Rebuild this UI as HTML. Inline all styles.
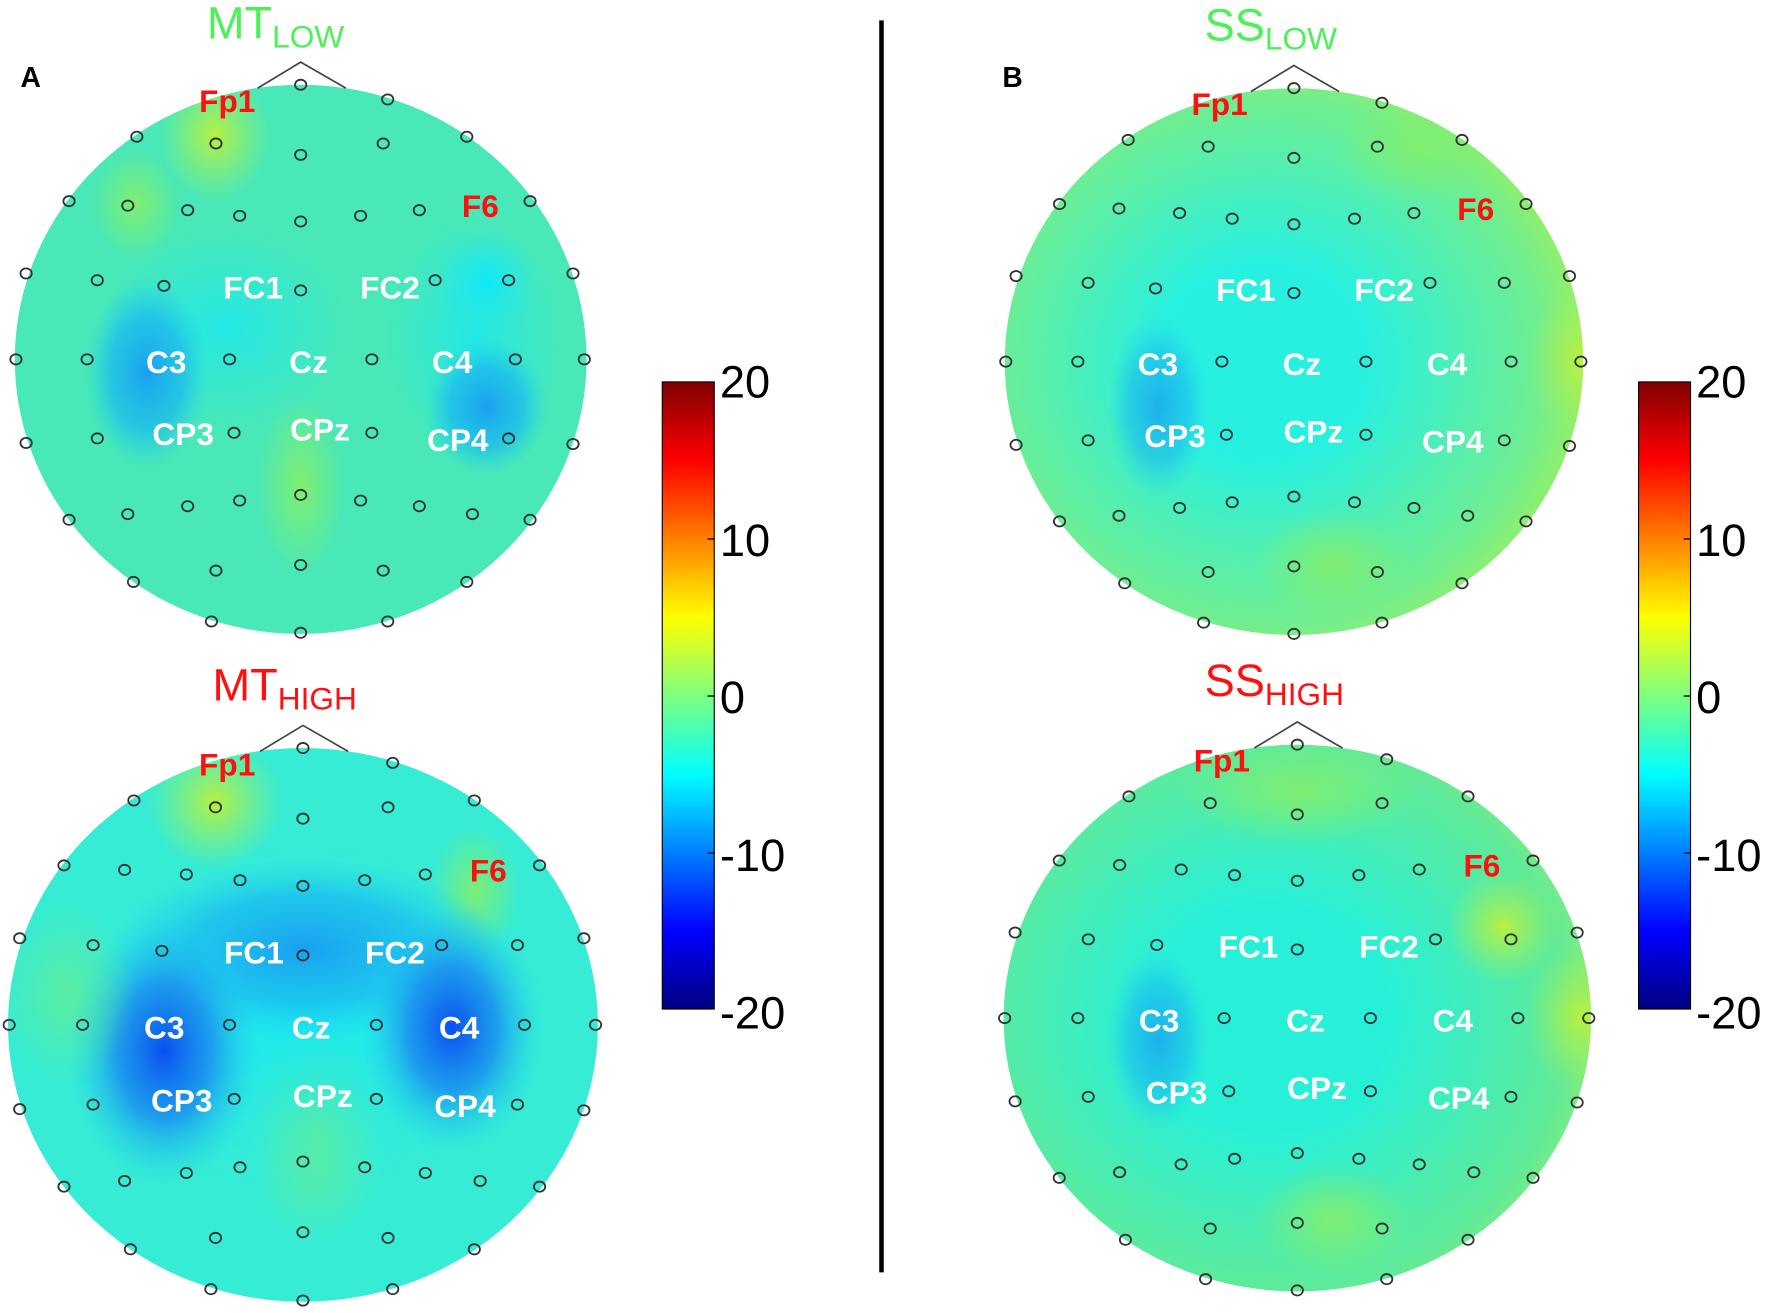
<!DOCTYPE html>
<html><head><meta charset="utf-8"><style>
html,body{margin:0;padding:0;background:#fff;width:1772px;height:1313px;overflow:hidden}
svg{display:block}
text{font-family:"Liberation Sans",sans-serif}
</style></head><body>
<svg id="s" width="1772" height="1313" viewBox="0 0 1568 1162" xmlns="http://www.w3.org/2000/svg">
<defs>
<linearGradient id="jet" x1="0" y1="1" x2="0" y2="0">
<stop offset="0" stop-color="#00007f"/><stop offset="0.125" stop-color="#0000ff"/>
<stop offset="0.375" stop-color="#00ffff"/><stop offset="0.5" stop-color="#7fff7f"/>
<stop offset="0.625" stop-color="#ffff00"/><stop offset="0.875" stop-color="#ff0000"/>
<stop offset="1" stop-color="#7f0000"/></linearGradient>
<radialGradient id="blue"><stop offset="0" stop-color="#0a50f0"/><stop offset="0.5" stop-color="#1a90f0" stop-opacity="0.85"/><stop offset="1" stop-color="#20d0f0" stop-opacity="0"/></radialGradient>
<radialGradient id="cyan"><stop offset="0" stop-color="#10e8f8"/><stop offset="1" stop-color="#20e8f0" stop-opacity="0"/></radialGradient>
<radialGradient id="mid"><stop offset="0" stop-color="#1aa0f0"/><stop offset="0.6" stop-color="#1ab8f0" stop-opacity="0.7"/><stop offset="1" stop-color="#20d0f0" stop-opacity="0"/></radialGradient>
<radialGradient id="yel"><stop offset="0" stop-color="#b8f040"/><stop offset="1" stop-color="#a0f060" stop-opacity="0"/></radialGradient>
<radialGradient id="grn"><stop offset="0" stop-color="#80ee70"/><stop offset="1" stop-color="#80ee70" stop-opacity="0"/></radialGradient>
<radialGradient id="ssl" cx="0.45" cy="0.5" r="0.6"><stop offset="0.3" stop-color="#28f0e0"/><stop offset="0.8" stop-color="#70ee90"/><stop offset="1" stop-color="#a8f050"/></radialGradient>
<radialGradient id="ssh" cx="0.45" cy="0.5" r="0.6"><stop offset="0.35" stop-color="#28f0d8"/><stop offset="0.85" stop-color="#60ea98"/><stop offset="1" stop-color="#90ee70"/></radialGradient>
<clipPath id="c1"><ellipse cx="266" cy="318" rx="253" ry="243"/></clipPath>
<clipPath id="c2"><ellipse cx="268" cy="907" rx="261" ry="245"/></clipPath>
<clipPath id="c3"><ellipse cx="1145" cy="320" rx="256" ry="242"/></clipPath>
<clipPath id="c4"><ellipse cx="1148" cy="901" rx="260" ry="242"/></clipPath>
</defs>

<g clip-path="url(#c1)">
<rect x="0" y="60" width="540" height="520" fill="#48e8b8"/>
<ellipse cx="190" cy="120" rx="50" ry="60" fill="url(#yel)"/>
<ellipse cx="120" cy="180" rx="40" ry="50" fill="url(#grn)"/>
<ellipse cx="266" cy="430" rx="40" ry="80" fill="url(#grn)"/>
<ellipse cx="200" cy="290" rx="110" ry="90" fill="url(#cyan)" opacity="0.7"/>
<ellipse cx="420" cy="300" rx="80" ry="110" fill="url(#cyan)" opacity="0.7"/>
<ellipse cx="130" cy="330" rx="55" ry="85" fill="url(#mid)"/>
<ellipse cx="430" cy="360" rx="55" ry="60" fill="url(#mid)"/>
<ellipse cx="430" cy="250" rx="45" ry="45" fill="url(#cyan)"/>
</g>
<g clip-path="url(#c2)">
<rect x="0" y="650" width="540" height="520" fill="#36ecd4"/>
<ellipse cx="190" cy="710" rx="60" ry="60" fill="url(#yel)"/>
<ellipse cx="420" cy="790" rx="40" ry="60" fill="url(#grn)"/>
<ellipse cx="280" cy="1000" rx="60" ry="100" fill="url(#grn)" opacity="0.7"/>
<ellipse cx="270" cy="900" rx="230" ry="160" fill="url(#cyan)" opacity="0.8"/>
<ellipse cx="270" cy="840" rx="170" ry="80" fill="url(#mid)"/>
<ellipse cx="145" cy="930" rx="85" ry="120" fill="url(#blue)"/>
<ellipse cx="400" cy="910" rx="80" ry="110" fill="url(#blue)"/>
<ellipse cx="60" cy="880" rx="60" ry="80" fill="url(#grn)" opacity="0.5"/>
</g>
<g clip-path="url(#c3)">
<ellipse cx="1145" cy="320" rx="256" ry="242" fill="url(#ssl)"/>
<ellipse cx="1025" cy="360" rx="45" ry="80" fill="url(#mid)" opacity="0.8"/>
<ellipse cx="1180" cy="500" rx="70" ry="50" fill="url(#grn)"/>
<ellipse cx="1400" cy="320" rx="50" ry="70" fill="url(#yel)"/>
<ellipse cx="1260" cy="130" rx="80" ry="50" fill="url(#grn)"/>
</g>
<g clip-path="url(#c4)">
<ellipse cx="1148" cy="901" rx="260" ry="242" fill="url(#ssh)"/>
<ellipse cx="1025" cy="920" rx="45" ry="80" fill="url(#mid)" opacity="0.8"/>
<ellipse cx="1180" cy="1080" rx="70" ry="50" fill="url(#grn)"/>
<ellipse cx="1400" cy="900" rx="50" ry="70" fill="url(#yel)"/>
<ellipse cx="1330" cy="820" rx="50" ry="50" fill="url(#yel)"/>
<ellipse cx="1150" cy="700" rx="110" ry="50" fill="url(#grn)"/>
</g>

<g id="el" fill="none" stroke="#333" stroke-width="1.6"></g>
<g font-weight="bold" font-size="28" fill="#fff" id="lab"></g>

<text x="183" y="34" font-size="40" fill="#4ef05a">MT<tspan font-size="28" dy="8">LOW</tspan></text>
<text x="188" y="620" font-size="40" fill="#ff1010">MT<tspan font-size="28" dy="8">HIGH</tspan></text>
<text x="1066" y="36" font-size="40" fill="#4ef05a">SS<tspan font-size="28" dy="8">LOW</tspan></text>
<text x="1066" y="616" font-size="40" fill="#ff1010">SS<tspan font-size="28" dy="8">HIGH</tspan></text>
<text x="18" y="77" font-size="25" font-weight="bold">A</text>
<text x="887" y="77" font-size="25" font-weight="bold">B</text>

<line x1="780" y1="18" x2="780" y2="1126" stroke="#000" stroke-width="4"/>

<rect x="586" y="338" width="46" height="555" fill="url(#jet)" stroke="#000" stroke-width="1"/>
<rect x="1450" y="338" width="46" height="555" fill="url(#jet)" stroke="#000" stroke-width="1"/>
<g font-size="40" fill="#000">
<text x="637" y="352">20</text><text x="637" y="492">10</text><text x="637" y="631">0</text><text x="637" y="771">-10</text><text x="637" y="910">-20</text>
<text x="1501" y="352">20</text><text x="1501" y="492">10</text><text x="1501" y="631">0</text><text x="1501" y="771">-10</text><text x="1501" y="910">-20</text>
</g>
<g stroke="#000" stroke-width="1.2">
<line x1="632" y1="477" x2="626" y2="477"/><line x1="632" y1="616" x2="626" y2="616"/><line x1="632" y1="755" x2="626" y2="755"/>
<line x1="1496" y1="477" x2="1490" y2="477"/><line x1="1496" y1="616" x2="1490" y2="616"/><line x1="1496" y1="755" x2="1490" y2="755"/>
</g>
</svg>
<script>
var ns="http://www.w3.org/2000/svg";
var heads=[[266,318,253,243],[268,907,261,245],[1145,320,256,242],[1148,901,260,242]];
var pts=[[266,75],[343,88],[121,121],[191,127],[266,137],[339,127],[413,121],
[61,178],[113,182],[166,186],[212,191],[266,196],[319,191],[371,186],[469,178],
[23,242],[86,248],[145,253],[266,257],[385,248],[450,248],[507,242],
[14,318],[77,318],[203,318],[329,318],[456,318],[517,318],
[23,392],[86,388],[207,383],[329,383],[450,388],[507,393],
[61,460],[113,455],[166,448],[212,443],[266,438],[319,443],[371,448],[418,455],[469,460],
[118,515],[191,505],[266,500],[339,505],[413,515],[187,550],[266,560],[343,550]];
var labs=[["FC1",224,264,"#fff"],["FC2",345,264,"#fff"],["C3",147,330,"#fff"],["Cz",273,330,"#fff"],["C4",400,330,"#fff"],
["CP3",162,394,"#fff"],["CPz",283,390,"#fff"],["CP4",405,399,"#fff"],["Fp1",201,99,"#ff1010"],["F6",425,192,"#ff1010"]];
var el=document.getElementById("el"),lab=document.getElementById("lab");
heads.forEach(function(h){
 var sx=h[2]/253,sy=h[3]/243;
 pts.forEach(function(p){var c=document.createElementNS(ns,"ellipse");
  c.setAttribute("cx",h[0]+(p[0]-266)*sx);c.setAttribute("cy",h[1]+(p[1]-318)*sy);
  c.setAttribute("rx",5);c.setAttribute("ry",4.5);el.appendChild(c);});
 labs.forEach(function(l){var t=document.createElementNS(ns,"text");
  t.setAttribute("x",h[0]+(l[1]-266)*sx);t.setAttribute("y",h[1]+(l[2]-318)*sy);
  t.setAttribute("text-anchor","middle");t.setAttribute("fill",l[3]);t.textContent=l[0];lab.appendChild(t);});
 var pl=document.createElementNS(ns,"polyline");
 var ty=h[1]-h[3];
 pl.setAttribute("points",(h[0]-38)+","+(ty+3)+" "+h[0]+","+(ty-20)+" "+(h[0]+40)+","+(ty+3));
 pl.setAttribute("fill","none");pl.setAttribute("stroke","#444");pl.setAttribute("stroke-width","1.5");
 el.appendChild(pl);
});
</script>
</body></html>
